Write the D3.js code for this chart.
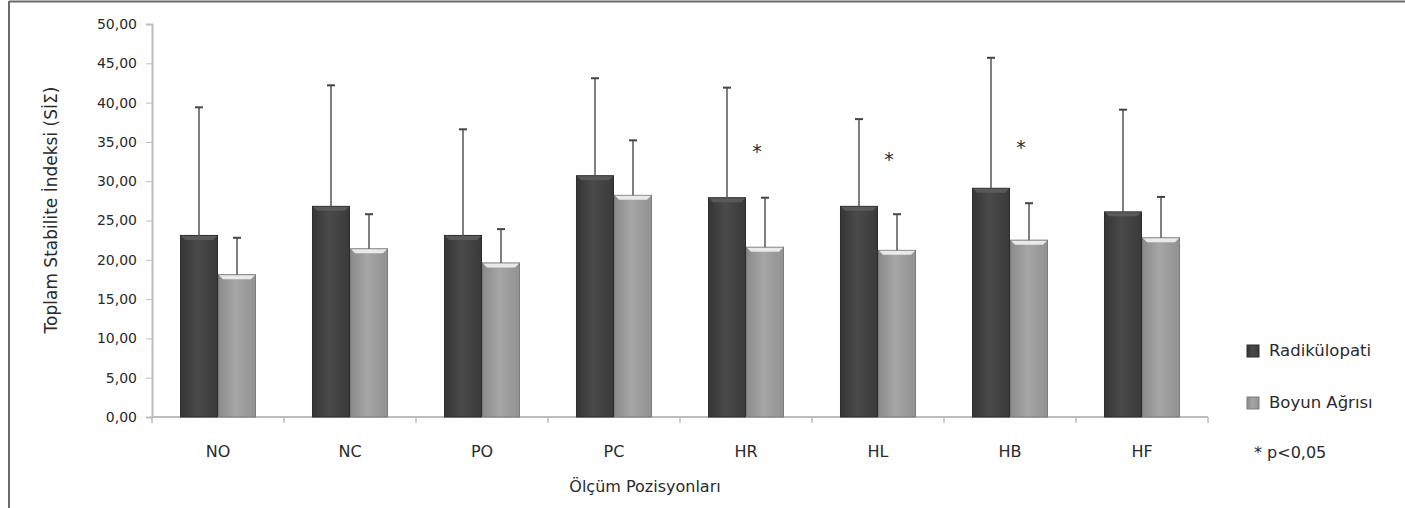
<!DOCTYPE html>
<html>
<head>
<meta charset="utf-8">
<script src="https://cdn.jsdelivr.net/npm/d3@7"></script>
<style>
  body { margin: 0; background: #fff; }
  svg text { font-family: "DejaVu Sans", sans-serif; fill: #2a2a2a; }
</style>
</head>
<body>
<div id="chart"></div>
<script>
// chart values
const categories = ['NO', 'NC', 'PO', 'PC', 'HR', 'HL', 'HB', 'HF'];
const seriesNames = ['Radikülopati', 'Boyun Ağrısı'];
const radikulopati = [23.1, 26.8, 23.1, 30.7, 27.9, 26.8, 29.1, 26.1];
const radikulopatiSD = [16.3, 15.4, 13.5, 12.4, 14.0, 11.1, 16.6, 13.0];
const boyunAgrisi = [18.1, 21.4, 19.6, 28.2, 21.6, 21.2, 22.5, 22.8];
const boyunAgrisiSD = [4.7, 4.4, 4.3, 7.0, 6.3, 4.6, 4.7, 5.2];
const significant = [null, null, null, null, 33.0, 31.9, 33.4, null];
const yTicks = [0, 5, 10, 15, 20, 25, 30, 35, 40, 45, 50];

const width = 1405, height = 508;
const margin = {top: 24, left: 152, bottom: 91};
const plotRight = 1208;

let svg = d3.select('#chart').append('svg')
  .attr('width', width)
  .attr('height', height);

let defs = svg.append('defs');
function gradient(id, stops){
  let g = defs.append('linearGradient').attr('id', id)
    .attr('x1', '0%').attr('x2', '100%').attr('y1', '0%').attr('y2', '0%');
  stops.forEach(function(s){
    g.append('stop').attr('offset', s[0]).attr('stop-color', s[1]);
  });
}
gradient('gDark', [['0%', '#353535'], ['45%', '#4a4a4a'], ['100%', '#3a3a3a']]);
gradient('gLight', [['0%', '#8a8a8a'], ['45%', '#a6a6a6'], ['100%', '#929292']]);

// outer frame
svg.append('line').attr('x1', 9).attr('x2', width).attr('y1', 1.5).attr('y2', 1.5)
  .attr('stroke', '#6a6a6a').attr('stroke-width', 2);
svg.append('line').attr('x1', 9).attr('x2', 9).attr('y1', 1).attr('y2', height)
  .attr('stroke', '#6a6a6a').attr('stroke-width', 2);

let x = d3.scaleBand()
  .domain(categories)
  .range([margin.left, plotRight])
  .paddingInner(0.424)
  .paddingOuter(0.212);

let xs = d3.scaleBand()
  .domain(seriesNames)
  .range([0, x.bandwidth()]);

let y = d3.scaleLinear()
  .domain([0, 50])
  .range([height - margin.bottom, margin.top]);

// y axis
let yAxis = svg.append('g')
  .attr('transform', 'translate(' + margin.left + ',0)')
  .call(d3.axisLeft(y).tickValues(yTicks).tickSize(6).tickPadding(9)
    .tickFormat(function(d){ return d3.format('.2f')(d).replace('.', ','); }));
yAxis.select('.domain').attr('stroke', '#bdbdbd').attr('stroke-width', 2);
yAxis.selectAll('.tick line').attr('stroke', '#bdbdbd');
yAxis.selectAll('.tick text').attr('font-size', 14).attr('fill', '#2a2a2a')
  .attr('font-family', '"DejaVu Sans", sans-serif');

// x axis
let step = x.step();
let xAxis = svg.append('g')
  .attr('transform', 'translate(0,' + y(0) + ')');
xAxis.append('line')
  .attr('x1', margin.left).attr('x2', plotRight)
  .attr('stroke', '#bdbdbd').attr('stroke-width', 2);
xAxis.selectAll('.xtick')
  .data(d3.range(categories.length + 1))
  .enter().append('line')
  .attr('x1', function(i){ return margin.left + i * step; })
  .attr('x2', function(i){ return margin.left + i * step; })
  .attr('y1', 0).attr('y2', 6)
  .attr('stroke', '#bdbdbd').attr('stroke-width', 1.5);
xAxis.selectAll('.xlabel')
  .data(categories)
  .enter().append('text')
  .attr('x', function(d){ return x(d) + x.bandwidth() / 2; })
  .attr('y', 35)
  .attr('text-anchor', 'middle')
  .attr('dominant-baseline', 'middle')
  .attr('font-size', 16)
  .text(function(d){ return d; });

// bars
let series = [
  {name: seriesNames[0], values: radikulopati, sd: radikulopatiSD, fill: 'url(#gDark)', stroke: '#2c2c2c', bevel: '#5c5c5c'},
  {name: seriesNames[1], values: boyunAgrisi, sd: boyunAgrisiSD, fill: 'url(#gLight)', stroke: '#7c7c7c', bevel: '#f2f2f2'}
];

series.forEach(function(s){
  let g = svg.append('g');
  let rows = categories.map(function(c, i){ return {cat: c, v: s.values[i], sd: s.sd[i]}; });
  g.selectAll('rect.bar')
    .data(rows)
    .enter().append('rect')
    .attr('class', 'bar')
    .attr('x', function(d){ return x(d.cat) + xs(s.name) + 0.5; })
    .attr('y', function(d){ return y(d.v); })
    .attr('width', xs.bandwidth() - 1)
    .attr('height', function(d){ return y(0) - y(d.v); })
    .attr('fill', s.fill)
    .attr('stroke', s.stroke)
    .attr('stroke-width', 1);
  // top bevel
  g.selectAll('path.bevel')
    .data(rows)
    .enter().append('path')
    .attr('d', function(d){
      let x0 = x(d.cat) + xs(s.name) + 1, x1 = x0 + xs.bandwidth() - 2, t = y(d.v) + 0.5;
      return 'M' + x0 + ',' + t + 'L' + x1 + ',' + t + 'L' + (x1 - 4) + ',' + (t + 4) + 'L' + (x0 + 4) + ',' + (t + 4) + 'Z';
    })
    .attr('fill', s.bevel)
    .attr('opacity', 0.9);
  // error bars
  let cx = function(d){ return x(d.cat) + xs(s.name) + xs.bandwidth() / 2; };
  g.selectAll('line.err')
    .data(rows)
    .enter().append('line')
    .attr('x1', cx).attr('x2', cx)
    .attr('y1', function(d){ return y(d.v); })
    .attr('y2', function(d){ return y(d.v + d.sd); })
    .attr('stroke', '#555').attr('stroke-width', 1.5);
  g.selectAll('line.cap')
    .data(rows)
    .enter().append('line')
    .attr('x1', function(d){ return cx(d) - 4; })
    .attr('x2', function(d){ return cx(d) + 4; })
    .attr('y1', function(d){ return y(d.v + d.sd); })
    .attr('y2', function(d){ return y(d.v + d.sd); })
    .attr('stroke', '#444').attr('stroke-width', 2);
});

// significance marks
svg.selectAll('text.sig')
  .data(categories.map(function(c, i){ return {cat: c, v: significant[i]}; })
    .filter(function(d){ return d.v !== null; }))
  .enter().append('text')
  .attr('x', function(d){ return x(d.cat) + x.bandwidth() / 2 + 11; })
  .attr('y', function(d){ return y(d.v); })
  .attr('text-anchor', 'middle')
  .attr('font-size', 19)
  .attr('fill', '#333')
  .text('*');

// axis titles
svg.append('text')
  .attr('transform', 'translate(52,210) rotate(-90)')
  .attr('text-anchor', 'middle')
  .attr('dominant-baseline', 'middle')
  .attr('font-size', 17)
  .text('Toplam Stabilite İndeksi (SİΣ)');

svg.append('text')
  .attr('x', 645)
  .attr('y', 487)
  .attr('text-anchor', 'middle')
  .attr('dominant-baseline', 'middle')
  .attr('font-size', 16)
  .text('Ölçüm Pozisyonları');

// legend
let legend = svg.append('g').attr('transform', 'translate(1247,0)');
series.forEach(function(s, i){
  let cy = 351 + i * 52;
  legend.append('rect')
    .attr('x', 0).attr('y', cy - 6)
    .attr('width', 12).attr('height', 12)
    .attr('fill', s.fill).attr('stroke', s.stroke);
  legend.append('text')
    .attr('x', 22).attr('y', cy)
    .attr('dominant-baseline', 'middle')
    .attr('font-size', 16.5)
    .text(s.name);
});
legend.append('text')
  .attr('x', 7).attr('y', 453)
  .attr('dominant-baseline', 'middle')
  .attr('font-size', 16)
  .text('* p<0,05');
</script>
</body>
</html>
